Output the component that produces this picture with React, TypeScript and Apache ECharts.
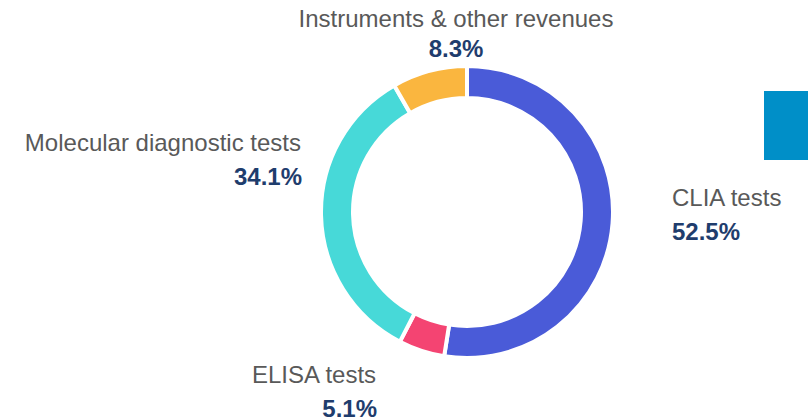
import React, { useEffect, useRef } from "react";
import * as echarts from "echarts";

const categories = ["CLIA tests", "ELISA tests", "Molecular diagnostic tests", "Instruments & other revenues"];
const values = [52.5, 5.1, 34.1, 8.3];
const colors = ["#4a5bd8", "#f44472", "#47d9d8", "#fab63f"];

// label layout (name position, percent position, alignment)
const labelLayout = [
  { nx: 672, ny: 197, px: 672, py: 231, align: "left" },
  { nx: 252, ny: 374, px: 377, py: 408, align: "left", palign: "right" },
  { nx: 301, ny: 142, px: 302, py: 176, align: "right" },
  { nx: 456, ny: 18, px: 456, py: 48, align: "center" },
];

export default function App() {
  const ref = useRef<HTMLDivElement>(null);
  useEffect(() => {
    if (!ref.current) return;
    const chart = echarts.init(ref.current, null, { renderer: "svg" });
    const graphics: any[] = [
      {
        type: "rect",
        shape: { x: 764, y: 91, width: 44, height: 69 },
        style: { fill: "#008fc8" },
      },
    ];
    categories.forEach((name, i) => {
      const l = labelLayout[i];
      graphics.push({
        type: "text",
        x: l.nx,
        y: l.ny,
        style: {
          text: name,
          fill: "#595959",
          font: "24px 'Liberation Sans', Arial, sans-serif",
          textAlign: l.align,
          textVerticalAlign: "middle",
        },
      });
      graphics.push({
        type: "text",
        x: l.px,
        y: l.py,
        style: {
          text: values[i].toFixed(1) + "%",
          fill: "#1f3d6d",
          font: "bold 24px 'Liberation Sans', Arial, sans-serif",
          textAlign: (l as any).palign || l.align,
          textVerticalAlign: "middle",
        },
      });
    });
    chart.setOption({
      animation: false,
      backgroundColor: "#ffffff",
      series: [
        {
          type: "pie",
          center: [467, 212],
          radius: [114, 146],
          startAngle: 90,
          clockwise: true,
          label: { show: false },
          labelLine: { show: false },
          emphasis: { disabled: true },
          itemStyle: { borderColor: "#ffffff", borderWidth: 4 },
          data: categories.map((name, i) => ({
            name,
            value: values[i],
            itemStyle: { color: colors[i] },
          })),
        },
      ],
      graphic: graphics,
    });
    return () => chart.dispose();
  }, []);
  return <div ref={ref} style={{ position: "fixed", left: 0, top: 0, width: 808, height: 420 }} />;
}
